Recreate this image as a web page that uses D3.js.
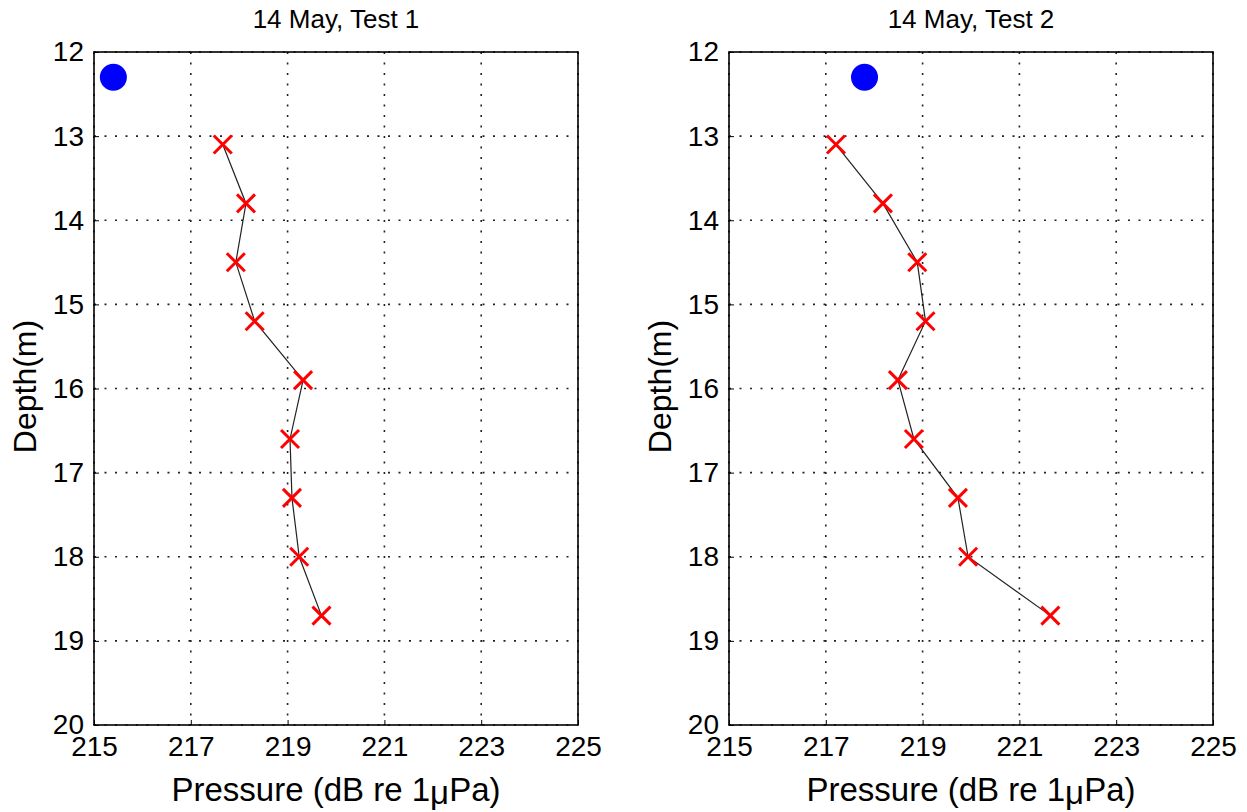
<!DOCTYPE html>
<meta charset="utf-8">
<style>
  body { margin: 0; background: #fff; }
  text { font-family: Arial, "Liberation Sans", sans-serif; fill: #000; }
</style>
<body>
<div id="chart"></div>
<script src="https://d3js.org/d3.v7.min.js"></script>
<script>
// depths (m) of the hydrophone readings, same for both tests
var depth1 = [13.1, 13.8, 14.5, 15.2, 15.9, 16.6, 17.3, 18.0, 18.7];
var pressure1 = [217.66, 218.14, 217.93, 218.32, 219.32, 219.05, 219.09, 219.24, 219.70];
var depth2 = [13.1, 13.8, 14.5, 15.2, 15.9, 16.6, 17.3, 18.0, 18.7];
var pressure2 = [217.21, 218.18, 218.89, 219.06, 218.49, 218.82, 219.73, 219.94, 221.64];

// source position (blue dot)
var source1 = { p: 215.4, d: 12.3 };
var source2 = { p: 217.8, d: 12.3 };

var titles = ["14 May, Test 1", "14 May, Test 2"];
var xTicks = [215, 217, 219, 221, 223, 225];
var yTicks = [12, 13, 14, 15, 16, 17, 18, 19, 20];

var W = 1247, H = 812;
var svg = d3.select("#chart").append("svg")
  .attr("width", W)
  .attr("height", H);

var plotTop = 52, plotBottom = 725, pw = 484;

function panel(left, title, pres, depth, src) {
  var x = d3.scaleLinear().domain([215, 225]).range([left, left + pw]);
  var y = d3.scaleLinear().domain([12, 20]).range([plotTop, plotBottom]);
  var g = svg.append("g");

  // dotted grid
  g.selectAll(".gx").data(xTicks).enter().append("line")
    .attr("x1", function (d) { return x(d); }).attr("x2", function (d) { return x(d); })
    .attr("y1", plotTop).attr("y2", plotBottom)
    .attr("stroke", "#222").attr("stroke-width", 1.6)
    .attr("stroke-dasharray", "2,8.5");
  g.selectAll(".gy").data(yTicks).enter().append("line")
    .attr("x1", left).attr("x2", left + pw)
    .attr("y1", function (d) { return y(d); }).attr("y2", function (d) { return y(d); })
    .attr("stroke", "#222").attr("stroke-width", 1.6)
    .attr("stroke-dasharray", "2,8.5");

  // axes (MATLAB style, ticks inward, box)
  g.append("g")
    .attr("transform", "translate(0," + plotBottom + ")")
    .call(d3.axisBottom(x).tickValues(xTicks).tickSizeInner(-5).tickSizeOuter(0).tickPadding(9))
    .call(function (a) {
      a.select(".domain").remove();
      a.selectAll("text").attr("font-size", 28).attr("dy", "0.78em");
    });
  g.append("g")
    .attr("transform", "translate(" + left + ",0)")
    .call(d3.axisLeft(y).tickValues(yTicks).tickSizeInner(-5).tickSizeOuter(0).tickPadding(10))
    .call(function (a) {
      a.select(".domain").remove();
      a.selectAll("text").attr("font-size", 28);
    });
  g.append("rect")
    .attr("x", left).attr("y", plotTop)
    .attr("width", pw).attr("height", plotBottom - plotTop)
    .attr("fill", "none").attr("stroke", "#000").attr("stroke-width", 1.6);

  // profile line
  var pts = pres.map(function (p, i) { return [p, depth[i]]; });
  g.append("path")
    .datum(pts)
    .attr("fill", "none")
    .attr("stroke", "#222")
    .attr("stroke-width", 1.2)
    .attr("d", d3.line().x(function (d) { return x(d[0]); }).y(function (d) { return y(d[1]); }));

  // red crosses
  var s = 9;
  g.selectAll(".cross").data(pts).enter().append("path")
    .attr("d", function (d) {
      var cx = x(d[0]), cy = y(d[1]);
      return "M" + (cx - s) + "," + (cy - s) + "L" + (cx + s) + "," + (cy + s) +
        "M" + (cx - s) + "," + (cy + s) + "L" + (cx + s) + "," + (cy - s);
    })
    .attr("stroke", "#ff0000").attr("stroke-width", 3).attr("fill", "none");

  // source dot
  g.append("circle")
    .attr("cx", x(src.p)).attr("cy", y(src.d)).attr("r", 13.5)
    .attr("fill", "#0000ff");

  // title
  g.append("text")
    .attr("x", left + pw / 2).attr("y", 28)
    .attr("text-anchor", "middle").attr("font-size", 26)
    .text(title);

  // x label
  var xl = g.append("text")
    .attr("x", left + pw / 2).attr("y", 801)
    .attr("text-anchor", "middle").attr("font-size", 33);
  xl.append("tspan").text("Pressure (dB re 1");
  xl.append("tspan").attr("dy", 3).text("\u03bc");
  xl.append("tspan").attr("dy", -3).text("Pa)");

  // y label
  g.append("text")
    .attr("transform", "translate(" + (left - 58) + "," + ((plotTop + plotBottom) / 2 - 2) + ") rotate(-90)")
    .attr("text-anchor", "middle").attr("font-size", 32)
    .text("Depth(m)");
}

panel(94, titles[0], pressure1, depth1, source1);
panel(729, titles[1], pressure2, depth2, source2);
</script>
</body>
